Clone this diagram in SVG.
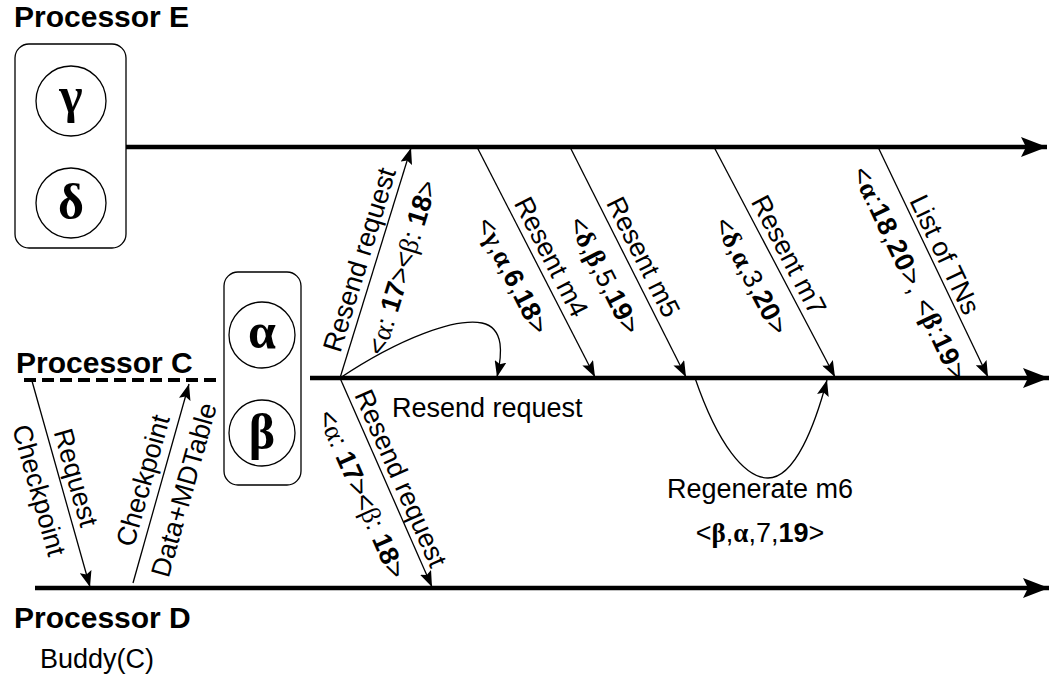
<svg xmlns="http://www.w3.org/2000/svg" width="1055" height="685" viewBox="0 0 1055 685">
<style>
.title{font-family:"Liberation Sans",Arial,sans-serif;font-weight:bold;font-size:30px;fill:#000}
.lbl{font-family:"Liberation Sans",Arial,sans-serif;font-size:27px;fill:#000}
.gk{font-family:"Liberation Serif","Times New Roman",serif}
.b{font-weight:bold}
.big{font-family:"Liberation Serif","Times New Roman",serif;font-weight:bold;font-size:50px;fill:#000}
.main{stroke:#000;stroke-width:4.5;fill:none}
.thin{stroke:#000;stroke-width:1.3;fill:none}
.box{fill:#fff;stroke:#000;stroke-width:1.3}
.circ{fill:#fff;stroke:#000;stroke-width:1.3}
</style>
<defs>
<marker id="ah" markerUnits="userSpaceOnUse" markerWidth="18" markerHeight="12" refX="16" refY="6" orient="auto">
<path d="M0,0 L16,6 L0,12 L3,6 z" fill="#000"/>
</marker>
<marker id="ahBig" markerUnits="userSpaceOnUse" markerWidth="28" markerHeight="20" refX="26" refY="10" orient="auto">
<path d="M0,0 L26,10 L0,20 L5,10 z" fill="#000"/>
</marker>
</defs>

<!-- Processor E -->
<g id="procE">
<text class="title" x="14" y="27">Processor E</text>
<rect class="box" x="15" y="44" width="111" height="204" rx="14"/>
<circle class="circ" cx="71" cy="101" r="35"/>
<text class="big" x="71" y="112" text-anchor="middle">γ</text>
<circle class="circ" cx="71" cy="203" r="35"/>
<text class="big" x="71" y="219" text-anchor="middle">δ</text>
</g>

<!-- Processor C -->
<g id="procC">
<text class="title" x="16" y="373">Processor C</text>
<rect class="box" x="224" y="272" width="77" height="213" rx="14"/>
<circle class="circ" cx="262" cy="335" r="33"/>
<text class="big" x="262" y="348" text-anchor="middle">α</text>
<circle class="circ" cx="262" cy="433" r="33"/>
<text class="big" x="262" y="449" text-anchor="middle">β</text>
</g>

<!-- Processor D -->
<g id="procD">
<text class="title" x="14" y="628">Processor D</text>
<text class="lbl" x="40" y="668">Buddy(C)</text>
</g>

<g id="connectors">
<!-- timelines -->
<line class="main" x1="126" y1="147" x2="1047" y2="147" marker-end="url(#ahBig)"/>
<line class="main" x1="310" y1="378" x2="1049" y2="378" marker-end="url(#ahBig)"/>
<line class="main" x1="35" y1="588" x2="1049" y2="588" marker-end="url(#ahBig)"/>
<line x1="24" y1="380" x2="222" y2="380" stroke="#000" stroke-width="4" stroke-dasharray="12,6"/>

<!-- messages -->
<line class="thin" x1="340" y1="378" x2="411" y2="148" marker-end="url(#ah)"/>
<line class="thin" x1="340" y1="378" x2="432" y2="587" marker-end="url(#ah)"/>
<path class="thin" d="M340,378 C400,338 455,318 482,323 C505,328 502,355 497,377" marker-end="url(#ah)"/>
<line class="thin" x1="477" y1="147" x2="595" y2="377" marker-end="url(#ah)"/>
<line class="thin" x1="570" y1="147" x2="686" y2="377" marker-end="url(#ah)"/>
<line class="thin" x1="714" y1="147" x2="835" y2="377" marker-end="url(#ah)"/>
<line class="thin" x1="878" y1="147" x2="988" y2="377" marker-end="url(#ah)"/>
<path class="thin" d="M695,378 C718,445 745,478 768,478 C795,478 815,425 827,380" marker-end="url(#ah)"/>
<line class="thin" x1="32" y1="381" x2="90" y2="587" marker-end="url(#ah)"/>
<line class="thin" x1="133" y1="583" x2="189" y2="384" marker-end="url(#ah)"/>
</g>

<g id="labels">
<!-- resend up -->
<g transform="translate(375.5,262.5) rotate(-72.92)">
<text class="lbl" x="-2" y="-7" text-anchor="middle">Resend request</text>
<text class="lbl" x="3" y="36" text-anchor="middle">&lt;<tspan class="gk">α</tspan>: <tspan class="b">17</tspan>&gt;&lt;<tspan class="gk">β</tspan>: <tspan class="b">18</tspan>&gt;</text>
</g>
<!-- resend down -->
<g transform="translate(386,482.5) rotate(66.24)">
<text class="lbl" x="2" y="-6" text-anchor="middle">Resend request</text>
<text class="lbl" x="1" y="36" text-anchor="middle">&lt;<tspan class="gk">α</tspan>: <tspan class="b">17</tspan>&gt;&lt;<tspan class="gk">β</tspan>: <tspan class="b">18</tspan>&gt;</text>
</g>
<text class="lbl" x="392" y="417">Resend request</text>
<!-- m4 -->
<g transform="translate(536,262.5) rotate(62.94)">
<text class="lbl" x="2" y="-7" text-anchor="middle">Resent m4</text>
<text class="lbl" x="1" y="36" text-anchor="middle">&lt;<tspan class="gk b">γ</tspan>,<tspan class="gk b">α</tspan>,<tspan class="b">6</tspan>,<tspan class="b">18</tspan>&gt;</text>
</g>
<!-- m5 -->
<g transform="translate(628,262.5) rotate(63.34)">
<text class="lbl" x="2" y="-7" text-anchor="middle">Resent m5</text>
<text class="lbl" x="1" y="36" text-anchor="middle">&lt;<tspan class="gk b">δ</tspan>,<tspan class="gk b">β</tspan>,5,<tspan class="b">19</tspan>&gt;</text>
</g>
<!-- m7 -->
<g transform="translate(774.5,262.5) rotate(62.35)">
<text class="lbl" x="0" y="-7" text-anchor="middle">Resent m7</text>
<text class="lbl" x="1" y="36" text-anchor="middle">&lt;<tspan class="gk b">δ</tspan>,<tspan class="gk b">α</tspan>,3,<tspan class="b">20</tspan>&gt;</text>
</g>
<!-- TNs -->
<g transform="translate(933,262.5) rotate(64.54)">
<text class="lbl" x="-2" y="-5" text-anchor="middle">List of TNs</text>
<text class="lbl" x="0" y="35" text-anchor="middle" letter-spacing="0.8">&lt;<tspan class="gk b">α</tspan>:<tspan class="b">18</tspan>,<tspan class="b">20</tspan>&gt;, &lt;<tspan class="gk b">β</tspan>:<tspan class="b">19</tspan>&gt;</text>
</g>
<!-- regenerate -->
<text class="lbl" x="760" y="498" text-anchor="middle">Regenerate m6</text>
<text class="lbl" x="760" y="542" text-anchor="middle">&lt;<tspan class="gk b">β</tspan>,<tspan class="gk b">α</tspan>,7,<tspan class="b">19</tspan>&gt;</text>
<!-- checkpoint request -->
<g transform="translate(61,484) rotate(74.28)">
<text class="lbl" x="-2" y="-7" text-anchor="middle">Request</text>
<text class="lbl" x="0" y="32" text-anchor="middle">Checkpoint</text>
</g>
<!-- checkpoint data -->
<g transform="translate(161,483.5) rotate(-74.28)">
<text class="lbl" x="-2" y="-9" text-anchor="middle">Checkpoint</text>
<text class="lbl" x="0" y="33" text-anchor="middle">Data+MDTable</text>
</g>
</g>
</svg>
